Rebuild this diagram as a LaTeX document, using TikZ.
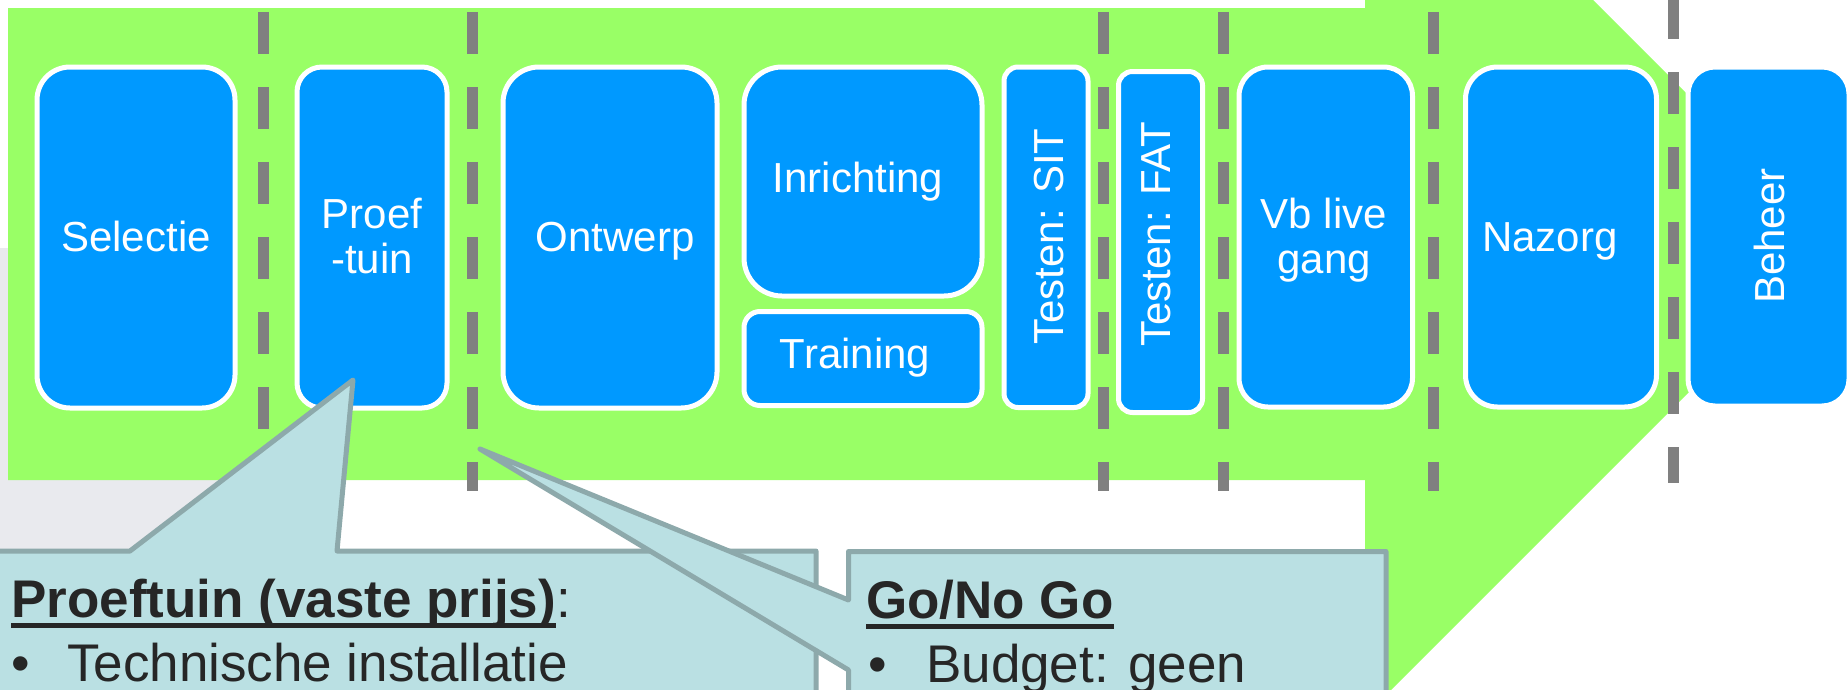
\documentclass[tikz,border=0pt]{standalone}
\usepackage{fontspec}
\setmainfont{Liberation Sans}
\usetikzlibrary{calc}
\definecolor{arrowgreen}{HTML}{99FF66}
\definecolor{boxblue}{HTML}{0099FF}
\definecolor{sepgray}{HTML}{808080}
\definecolor{callfill}{HTML}{BAE0E3}
\definecolor{callline}{HTML}{8DA9AB}
\definecolor{bggray}{HTML}{E9EAEE}
\definecolor{txtdark}{HTML}{262626}
\tikzset{
  phasebox/.style={rectangle, draw=white, line width=5pt, fill=boxblue, inner sep=0pt},
  phasetext/.style={text=white, font=\fontsize{42}{46}\selectfont, inner sep=0pt, anchor=base},
  sepline/.style={draw=sepgray, line width=11pt, dash pattern=on 42pt off 33pt},
  callout/.style={fill=callfill, draw=callline, line width=5pt, line join=round},
  calltext/.style={text=txtdark, font=\fontsize{53}{64}\selectfont, inner sep=0pt, anchor=base west},
  callhead/.style={calltext, font=\fontsize{53}{64}\selectfont\bfseries},
}
\begin{document}
\begin{tikzpicture}[x=1pt,y=-1pt]
\useasboundingbox (0,0) rectangle (1847,689);
\clip (0,0) rectangle (1847,689);
% background shapes
\fill[bggray] (0,248) rectangle (320,560);
\fill[arrowgreen] (8,8) -- (1365,8) -- (1365,-228) -- (1837,244) -- (1365,716) -- (1365,480) -- (8,480) -- cycle;
% separators
\foreach \x in {263.5,472.5,1103.5,1223.5,1433} \draw[sepline] (\x,12) -- (\x,491);
\draw[sepline] (1673,-3) -- (1673,483);
% phase boxes
\node[phasebox, minimum width=198pt, minimum height=341pt, rounded corners=33pt] (sel) at (136,237.5) {};
\node[phasebox, minimum width=150pt, minimum height=341pt, rounded corners=25pt] (proef) at (372,237.5) {};
\node[phasebox, minimum width=214pt, minimum height=341pt, rounded corners=36pt] (ontw) at (610,237.5) {};
\node[phasebox, minimum width=238pt, minimum height=229pt, rounded corners=38pt] (inr) at (863,181.5) {};
\node[phasebox, minimum width=238pt, minimum height=94pt, rounded corners=16pt] (train) at (863,358.5) {};
\node[phasebox, minimum width=84pt, minimum height=340.5pt, rounded corners=14pt] (sit) at (1046,237.25) {};
\node[phasebox, minimum width=84pt, minimum height=341pt, rounded corners=14pt] (fat) at (1160.5,242) {};
\node[phasebox, minimum width=173.5pt, minimum height=340pt, rounded corners=29pt] (vb) at (1325.75,237) {};
\node[phasebox, minimum width=191pt, minimum height=340pt, rounded corners=32pt] (naz) at (1561,237) {};
\node[phasebox, minimum width=161pt, minimum height=339pt, rounded corners=27pt] (beh) at (1768.5,236.5) {};
% phase labels
\node[phasetext] (selT) at (136,251) {Selectie};
\node[phasetext] (proefT1) at (372,228) {Proef};
\node[phasetext] (proefT2) at (372,273) {-tuin};
\node[phasetext] (ontwT) at (615,251) {Ontwerp};
\node[phasetext] (inrT) at (858,192) {Inrichting};
\node[phasetext] (trainT) at (855,368) {Training};
\node[phasetext, rotate=90] (sitT) at (1063,236.5) {Testen: SIT};
\node[phasetext, rotate=90] (fatT) at (1170,234) {Testen: FAT};
\node[phasetext] (vbT1) at (1324,228) {Vb live};
\node[phasetext] (vbT2) at (1324,273) {gang};
\node[phasetext] (nazT) at (1550,251) {Nazorg};
\node[phasetext, rotate=90] (behT) at (1784,236) {Beheer};
% callouts
\draw[callout] (-10,551) -- (130,551) -- (353,380) -- (337,551) -- (816,551) -- (816,720) -- (-10,720) -- cycle;
\draw[callout] (848.5,600) -- (848.5,551.5) -- (1386,551.5) -- (1386,720) -- (848.5,720) -- (848.5,670) -- (480,449) -- cycle;
% callout texts
\node[callhead] (pth) at (11,617) {Proeftuin (vaste prijs)};
\node[calltext] (ptc) at (pth.base east) {:};
\fill[txtdark] ($(pth.base west)+(0,6)$) rectangle ($(pth.base east)+(0,11)$);
\node[calltext] (ptb) at (11,681) {•};
\node[calltext] (ptl) at (67,681) {Technische installatie};
\node[callhead] (gnh) at (866,618) {Go/No Go};
\fill[txtdark] ($(gnh.base west)+(0,6)$) rectangle ($(gnh.base east)+(0,11)$);
\node[calltext] (gnb) at (868,682) {•};
\node[calltext] (gnl) at (926,682) {Budget: geen};
\end{tikzpicture}
\end{document}
